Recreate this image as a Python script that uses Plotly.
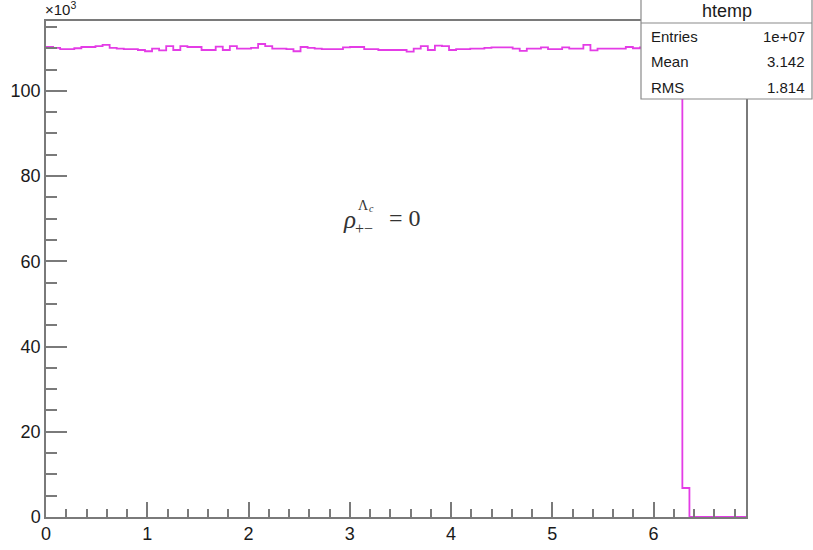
import plotly.graph_objects as go

# ---- data (bin contents in units of 10^3) ----
x_max = 6.913
n_bins = 99
counts = [
    110.3, 110.1, 109.8, 109.8, 110.0, 110.3, 110.3, 110.5, 110.8, 110.1,
    109.9, 109.8, 109.8, 109.6, 109.3, 109.9, 109.5, 110.5, 109.6, 110.5,
    110.3, 110.3, 109.6, 109.6, 110.4, 109.6, 110.5, 109.9, 109.9, 110.1,
    111.0, 110.5, 109.9, 109.9, 109.8, 109.3, 110.3, 110.1, 109.9, 109.8,
    109.8, 109.8, 110.2, 110.3, 110.3, 109.8, 109.8, 109.6, 109.6, 109.6,
    109.6, 109.2, 109.9, 110.5, 109.6, 110.6, 110.5, 109.6, 109.8, 109.8,
    109.9, 109.9, 110.1, 110.2, 110.2, 110.2, 109.9, 109.4, 109.9, 109.9,
    110.2, 109.8, 109.8, 110.2, 109.9, 109.9, 110.8, 109.5, 109.9, 109.9,
    109.9, 109.9, 110.3, 110.0, 110.2, 109.8, 110.1, 109.9, 110.3, 110.0,
    6.8, 0, 0, 0, 0, 0, 0, 0, 0,
]
y_max = 116.4
x_ticks = [0, 1, 2, 3, 4, 5, 6]
y_ticks = [0, 20, 40, 60, 80, 100]
stats_names = ["Entries", "Mean", "RMS"]
stats_values = ["1e+07", "3.142", "1.814"]
hist_name = "htemp"

w = x_max / n_bins
edges = [i * w for i in range(n_bins + 1)]
ys = counts + [counts[-1]]

# ---- layout geometry (pixels) ----
W, H = 813, 550
L, R, T, B = 46, 746, 21, 517
pw, ph = R - L, B - T

def px(xp):
    return (xp - L) / pw

def py(yp):
    return (B - yp) / ph

FONT = "Liberation Sans, Arial, Helvetica, sans-serif"
SERIF = "Liberation Serif, DejaVu Serif, serif"
AX = "#7a7a7a"
TXT = "#1a1a1a"

fig = go.Figure()
fig.add_trace(go.Scatter(
    x=edges, y=ys, mode="lines", line=dict(color="#e43ce6", width=1.8, shape="hv"),
    hoverinfo="skip", showlegend=False,
))

fig.update_layout(
    width=W, height=H,
    margin=dict(l=L, r=W - R, t=T, b=H - B, autoexpand=False),
    paper_bgcolor="white", plot_bgcolor="white",
    font=dict(family=FONT, color=TXT, size=17),
    showlegend=False,
)
fig.update_xaxes(
    range=[0, x_max], tickvals=x_ticks, ticktext=[str(v) for v in x_ticks],
    automargin=False,
    showgrid=False, zeroline=False, showline=True, linecolor=AX, linewidth=1.5,
    mirror=True, ticks="inside", ticklen=15, tickwidth=1.5, tickcolor=AX,
    tickfont=dict(size=18, family=FONT, color=TXT),
    minor=dict(dtick=0.2, tick0=0, ticks="inside", ticklen=8, tickwidth=1.5, tickcolor=AX, showgrid=False),
)
fig.update_yaxes(
    range=[0, y_max], tickvals=y_ticks, ticktext=[str(v) for v in y_ticks],
    automargin=False,
    showgrid=False, zeroline=False, showline=True, linecolor=AX, linewidth=1.5,
    mirror=True, ticks="inside", ticklen=21, tickwidth=1.5, tickcolor=AX,
    tickfont=dict(size=18, family=FONT, color=TXT),
    minor=dict(dtick=5, tick0=0, ticks="inside", ticklen=11, tickwidth=1.5, tickcolor=AX, showgrid=False),
)

ann = []
# x10^3 label
ann.append(dict(xref="paper", yref="paper", x=px(43), y=py(20), xanchor="left", yanchor="bottom",
                text="×10<sup>3</sup>", showarrow=False, font=dict(size=15, family=FONT, color=TXT)))

# rho label
RC = "#333"
ann.append(dict(xref="paper", yref="paper", x=px(349), y=py(219), xanchor="center", yanchor="middle",
                text="<i>ρ</i>", showarrow=False, font=dict(size=25, family=SERIF, color=RC)))
ann.append(dict(xref="paper", yref="paper", x=px(363), y=py(205), xanchor="center", yanchor="middle",
                text="Λ", showarrow=False, font=dict(size=14, family=SERIF, color=RC)))
ann.append(dict(xref="paper", yref="paper", x=px(371.5), y=py(208), xanchor="center", yanchor="middle",
                text="<i>c</i>", showarrow=False, font=dict(size=10, family=SERIF, color=RC)))
ann.append(dict(xref="paper", yref="paper", x=px(364), y=py(228), xanchor="center", yanchor="middle",
                text="+−", showarrow=False, font=dict(size=16, family=SERIF, color=RC)))
ann.append(dict(xref="paper", yref="paper", x=px(387), y=py(218), xanchor="left", yanchor="middle",
                text="= 0", showarrow=False, font=dict(size=24, family=SERIF, color=RC)))

# stats box
bx0, bx1, by0, by1, bsep = 641, 812, 0, 99, 23
shapes = [
    dict(type="rect", xref="paper", yref="paper", x0=px(bx0), x1=px(bx1), y0=py(by1), y1=py(by0 - 1),
         line=dict(color="#8a8a8a", width=1.2), fillcolor="white", layer="above"),
    dict(type="line", xref="paper", yref="paper", x0=px(bx0), x1=px(bx1), y0=py(bsep), y1=py(bsep),
         line=dict(color="#8a8a8a", width=1.2), layer="above"),
]
ann.append(dict(xref="paper", yref="paper", x=px((bx0 + bx1) / 2), y=py(11), xanchor="center", yanchor="middle",
                text=hist_name, showarrow=False, font=dict(size=18, family=FONT, color=TXT)))
for i, (n, v) in enumerate(zip(stats_names, stats_values)):
    yy = 37 + 25 * i
    ann.append(dict(xref="paper", yref="paper", x=px(649), y=py(yy), xanchor="left", yanchor="middle",
                    text=n, showarrow=False, font=dict(size=15, family=FONT, color=TXT)))
    ann.append(dict(xref="paper", yref="paper", x=px(807), y=py(yy), xanchor="right", yanchor="middle",
                    text=v, showarrow=False, font=dict(size=15, family=FONT, color=TXT)))

fig.update_layout(annotations=ann, shapes=shapes)
fig.write_html(
    "out.html",
    config={"displayModeBar": False},
    post_script="document.body.style.margin='0px';document.body.style.overflow='hidden';",
)
